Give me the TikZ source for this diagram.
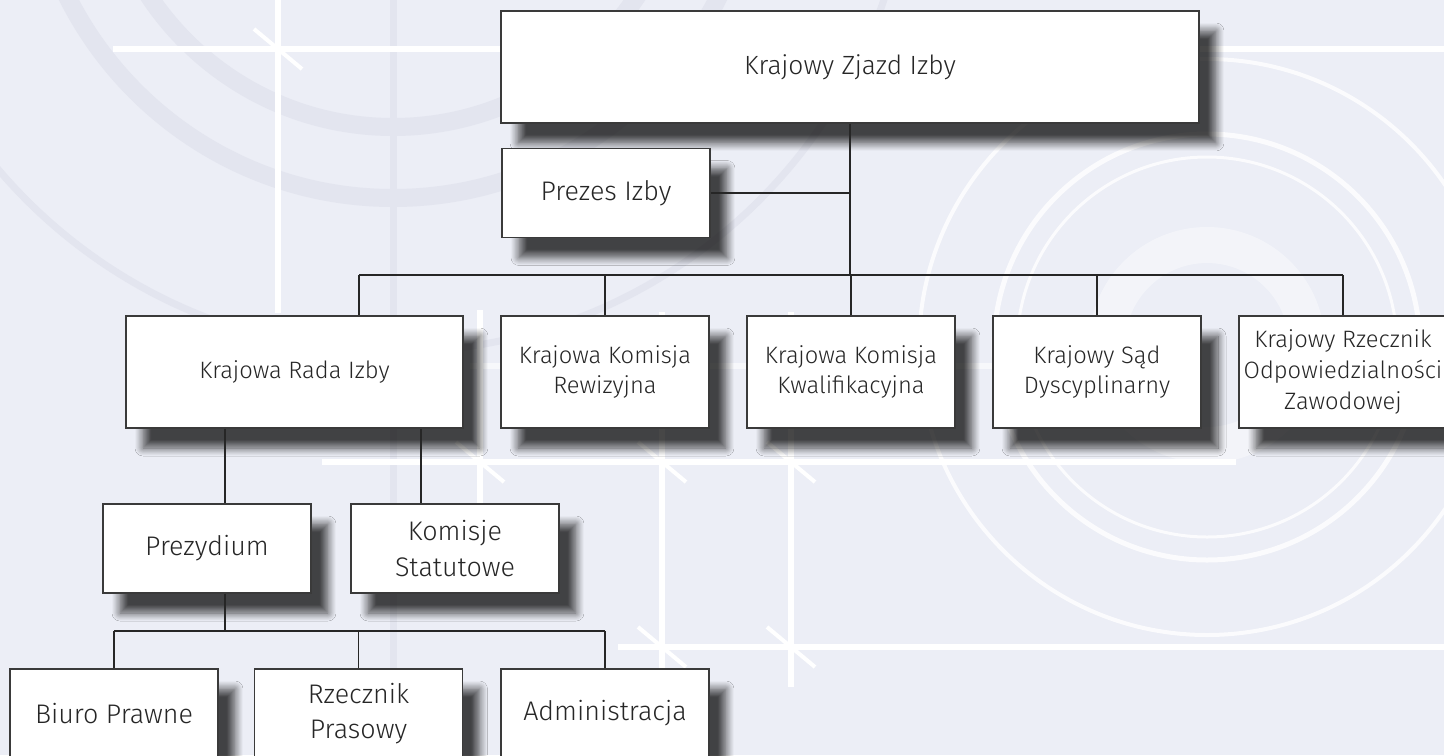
\documentclass[tikz,border=0pt]{standalone}
\usepackage{fontspec}
\setmainfont{Fira Sans}[UprightFont={* Light}]
\usetikzlibrary{shadows.blur}

\definecolor{bgcol}{HTML}{ECEEF6}
\definecolor{arccol}{HTML}{E3E5EF}
\definecolor{ink}{HTML}{262626}
\definecolor{boxline}{HTML}{3A3A3A}

\tikzset{
  unit/.style={draw=boxline, fill=white, line width=0.9pt, text=ink, align=center,
    font=\fontsize{13.5}{17.6}\selectfont, inner sep=2pt,
    blur shadow={shadow xshift=0.34cm, shadow yshift=-0.4cm, shadow blur radius=0.16cm,
      shadow blur steps=10, shadow opacity=72}},
  unitbig/.style={unit, minimum width=4.16cm, minimum height=2.24cm},
  unitsmall/.style={unit, minimum width=4.16cm, minimum height=1.78cm,
    font=\fontsize{15.3}{20}\selectfont},
  link/.style={draw=ink, line width=0.8pt},
  deco/.style={white, line width=0.12cm},
  tick/.style={white, line width=0.08cm},
  ring/.style={white, opacity=0.8, line width=0.08cm},
}

\begin{document}
\begin{tikzpicture}[x=0.02cm, y=-0.02cm]
  \clip (0,0) rectangle (1444,755);
  \fill[bgcol] (0,0) rectangle (1444,755);

  % background
  \draw[arccol, line width=0.36cm] (393,-166) circle[radius=293];
  \draw[arccol, line width=0.36cm] (393,-166) circle[radius=364];
  \draw[arccol, line width=0.14cm] (393,-166) circle[radius=518];
  \draw[arccol, line width=0.14cm] (393,0) -- (393,720);

  \draw[ring] (1207,347) circle[radius=288];
  \draw[ring, line width=0.1cm] (1207,347) circle[radius=213];
  \draw[ring, line width=0.06cm] (1207,347) circle[radius=190];
  \draw[white, opacity=0.4, line width=0.72cm] (1207,345) circle[radius=100];

  \draw[deco] (113,49) -- (1444,49);
  \draw[deco] (278,0) -- (278,313);
  \draw[deco, opacity=0.6] (470,366) -- (1000,366);
  \draw[deco] (322,462) -- (1236,462);
  \draw[deco] (618,647) -- (1444,647);
  \draw[deco] (480,310) -- (480,560);
  \foreach \gx in {662, 791}
    \draw[deco] (\gx,312) -- (\gx,687);
  \foreach \gx/\gy in {278/49, 480/462, 662/462, 791/462, 662/647, 791/647}
    \draw[tick] (\gx-24,\gy-20) -- (\gx+24,\gy+20);

  % boxes
  \node[unit, minimum width=13.96cm, minimum height=2.24cm, font=\fontsize{15}{19}\selectfont]
    (zjazd) at (850,67) {Krajowy Zjazd Izby};
  \node[unitsmall] (prezes) at (606,193) {Prezes Izby};

  \node[unit, minimum width=6.74cm, minimum height=2.24cm] (rada) at (294.5,372) {Krajowa Rada Izby};
  \node[unitbig] (rewizja) at (605,372) {Krajowa Komisja\\Rewizyjna};
  \node[unitbig] (kwalif) at (851,372) {Krajowa Komisja\\Kwalifikacyjna};
  \node[unitbig] (sad) at (1097,372) {Krajowy Sąd\\Dyscyplinarny};
  \node[unitbig] (rzecznik) at (1343,372) {Krajowy Rzecznik\\Odpowiedzialności\\Zawodowej};

  \node[unitsmall] (prezydium) at (207,548.5) {Prezydium};
  \node[unitsmall] (statut) at (455,548.5) {Komisje\\Statutowe};

  \node[unitsmall] (biuro) at (114,713.5) {Biuro Prawne};
  \node[unitsmall] (prasowy) at (358.5,713.5) {Rzecznik\\Prasowy};
  \node[unitsmall] (admin) at (605,713.5) {Administracja};

  % connectors
  \coordinate (busL) at (359,275);
  \coordinate (busR) at (1343,275);
  \coordinate (colA) at (225,0);
  \coordinate (colB) at (421,0);
  \coordinate (busP) at (114,631);
  \coordinate (busQ) at (605,631);

  \draw[link] (zjazd.south) -- (zjazd.south |- busL);
  \draw[link] (prezes.east) -- (prezes.east -| zjazd.south);
  \draw[link] (busL) -- (busR);
  \draw[link] (busL) -- (busL |- rada.north);
  \foreach \n in {rewizja, kwalif, sad, rzecznik}
    \draw[link] (\n.north) -- (\n.north |- busL);

  \draw[link] (rada.south -| colA) -- (prezydium.north -| colA);
  \draw[link] (rada.south -| colB) -- (statut.north -| colB);

  \draw[link] (prezydium.south -| colA) -- (colA |- busP);
  \draw[link] (busP) -- (busQ);
  \foreach \n in {biuro, prasowy, admin}
    \draw[link] (\n.north) -- (\n.north |- busP);
\end{tikzpicture}
\end{document}
